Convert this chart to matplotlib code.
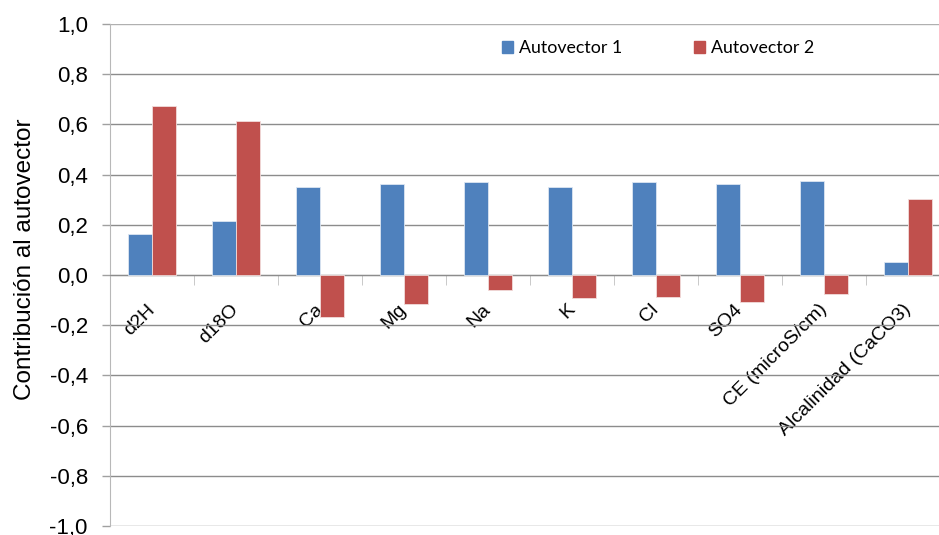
import matplotlib.pyplot as plt
import matplotlib
import numpy as np
from matplotlib.patches import Patch
from matplotlib.ticker import FuncFormatter, FixedLocator
from matplotlib.transforms import ScaledTranslation

matplotlib.rcParams['font.family'] = ['Liberation Sans', 'DejaVu Sans']

# componentes principales
variables = ['d2H', 'd18O', 'Ca', 'Mg', 'Na', 'K', 'Cl', 'SO4',
             'CE (microS/cm)', 'Alcalinidad (CaCO3)']
autovector1 = [0.162, 0.214, 0.352, 0.361, 0.372, 0.349, 0.372, 0.363, 0.375, 0.051]
autovector2 = [0.673, 0.612, -0.169, -0.117, -0.061, -0.093, -0.089, -0.109, -0.077, 0.303]
serie_nombres = ['Autovector 1', 'Autovector 2']
azul = '#4F81BD'
rojo = '#C0504D'

fig = plt.figure(figsize=(9.39, 5.35), dpi=100)
# el area de trazado sigue un poco mas alla del borde derecho
ax = fig.add_axes([110/939, 9/535, 840/939, 502/535])

x = np.arange(len(variables))
w = 0.286
ax.bar(x - w/2, autovector1, w, color=azul, edgecolor='#dce6f2', linewidth=0.6, zorder=3)
ax.bar(x + w/2, autovector2, w, color=rojo, edgecolor='#f2dcdb', linewidth=0.6, zorder=3)

ax.set_xlim(-0.5, len(variables) - 0.5)
ax.set_ylim(-1.0, 1.0)
ax.set_yticks(np.arange(-1.0, 1.01, 0.2))
ax.yaxis.set_major_formatter(FuncFormatter(lambda v, p: f'{v:.1f}'.replace('.', ',').replace('-0,0', '0,0')))
ax.tick_params(axis='y', labelsize=16, length=6, color='#a0a0a0', width=1, pad=10)
ax.grid(axis='y', color='#8c8c8c', linewidth=1, zorder=0)
ax.get_ygridlines()[-1].set_color('#b0b0b0')

# eje x cruzando en cero
for s in ['top', 'right']:
    ax.spines[s].set_visible(False)
ax.spines['left'].set_color('#b8b8b8')
ax.spines['bottom'].set_position(('data', 0))
ax.spines['bottom'].set_color('#8c8c8c')
ax.set_xticks(x)
ax.set_xticklabels(variables, rotation=45, ha='right', va='center', rotation_mode='anchor',
                   fontsize=14)
desplaza = ScaledTranslation(9/100, 0, fig.dpi_scale_trans)
for lab in ax.get_xticklabels():
    lab.set_transform(lab.get_transform() + desplaza)
ax.xaxis.set_minor_locator(FixedLocator(np.arange(0.5, len(variables) - 0.5, 1)))
ax.tick_params(axis='x', which='major', length=0, pad=23)
ax.tick_params(axis='x', which='minor', length=7, color='#c0c0c0', direction='out')

ax.set_ylabel('Contribución al autovector', fontsize=17.5)
ax.yaxis.set_label_coords(-0.088, 0.532)

handles = [Patch(color=azul), Patch(color=rojo)]
ax.legend(handles, serie_nombres, loc='center left', bbox_to_anchor=(486/939, 1 - 48/535),
          bbox_transform=fig.transFigure, ncol=2, frameon=False, handlelength=0.62,
          handleheight=0.62, handletextpad=0.35, columnspacing=4.0,
          prop={'family': 'Lato', 'size': 12.8})

fig.savefig('out.png', dpi=100)
